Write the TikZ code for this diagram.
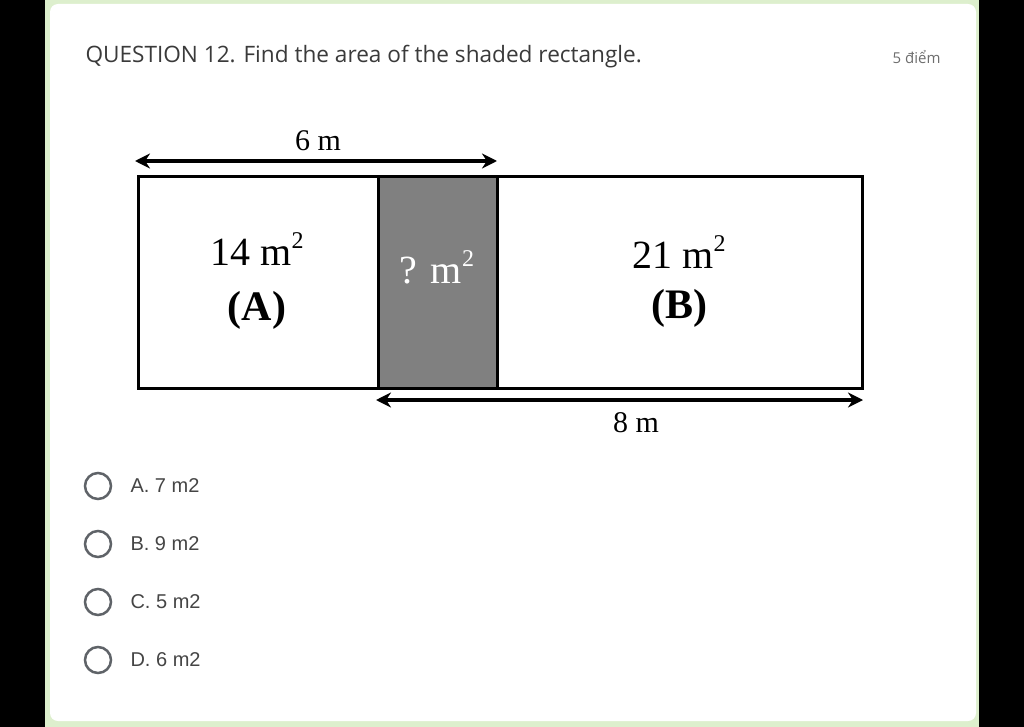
\documentclass[tikz,border=0pt]{standalone}
\usepackage{fontspec}
\setmainfont{Liberation Serif}
\newfontfamily\uisans{Open Sans}
\newfontfamily\optsans{Liberation Sans}
\usetikzlibrary{arrows.meta}
\definecolor{cardgreen}{HTML}{DDEFCD}
\definecolor{headgray}{HTML}{3A3A3A}
\definecolor{ptsgray}{HTML}{6E6E6E}
\definecolor{optgray}{HTML}{454545}
\definecolor{radiogray}{HTML}{5F6368}
\definecolor{shade}{HTML}{808080}
\newcommand{\sqm}{m\raisebox{0.42em}{\fontsize{24}{24}\selectfont 2}}
\tikzset{
  region/.style={draw=black, line width=3pt, minimum height=212pt, inner sep=0pt, anchor=north west},
  biglabel/.style={font=\fontsize{40}{44}\selectfont, text=black},
  boldlabel/.style={font=\bfseries\fontsize{42}{46}\selectfont, text=black},
  dimlabel/.style={font=\fontsize{30}{32}\selectfont, text=black},
  dimarrow/.style={line width=4pt, {Stealth[length=15pt,width=15pt]}-{Stealth[length=15pt,width=15pt]}},
  radio/.style={circle, draw=radiogray, line width=2.5pt, minimum size=26pt, inner sep=0pt},
  optlabel/.style={font=\optsans\fontsize{20}{22}\selectfont, text=optgray, anchor=west},
}
\begin{document}
\begin{tikzpicture}[x=1pt,y=-1pt]
\useasboundingbox (0,0) rectangle (1024,727);
\fill[black] (0,0) rectangle (1024,727);
\fill[cardgreen] (45,0) rectangle (979,727);
\fill[white, rounded corners=8pt] (50,4) rectangle (976,721);

% header
\node[font=\uisans\fontsize{22.6}{25}\selectfont, text=headgray, anchor=west] (title) at (82,57) {QUESTION 12. Find the area of the shaded rectangle.};
\node[font=\uisans\fontsize{15}{18}\selectfont, text=ptsgray, anchor=east] (pts) at (944,57) {5 điểm};

% regions
\node[region, fill=white, minimum width=240pt] (A) at (137,175) {};
\node[region, fill=shade, minimum width=119pt] (S) at (377,175) {};
\node[region, fill=white, minimum width=365pt] (B) at (496,175) {};

\node[biglabel] (Aarea) at (257,249) {14 \sqm};
\node[boldlabel] (Aname) at (257,310) {(A)};
\node[biglabel, text=white] (Sarea) at (437,267) {? \sqm};
\node[biglabel] (Barea) at (679,252) {21 \sqm};
\node[boldlabel] (Bname) at (679,308) {(B)};

% dimension arrows
\coordinate (t1) at (135,161);
\coordinate (t2) at (497,161);
\draw[dimarrow] (t1) -- (t2);
\node[dimlabel] (six) at (318,141) {6 m};
\coordinate (b1) at (376,400);
\coordinate (b2) at (863,400);
\draw[dimarrow] (b1) -- (b2);
\node[dimlabel] (eight) at (636,423) {8 m};

% options
\node[radio] (r1) at (98,486) {};
\node[optlabel] (o1) at (127,486) {A. 7 m2};
\node[radio] (r2) at (98,544) {};
\node[optlabel] (o2) at (127,544) {B. 9 m2};
\node[radio] (r3) at (98,602) {};
\node[optlabel] (o3) at (127,602) {C. 5 m2};
\node[radio] (r4) at (98,660) {};
\node[optlabel] (o4) at (127,660) {D. 6 m2};
\end{tikzpicture}
\end{document}
